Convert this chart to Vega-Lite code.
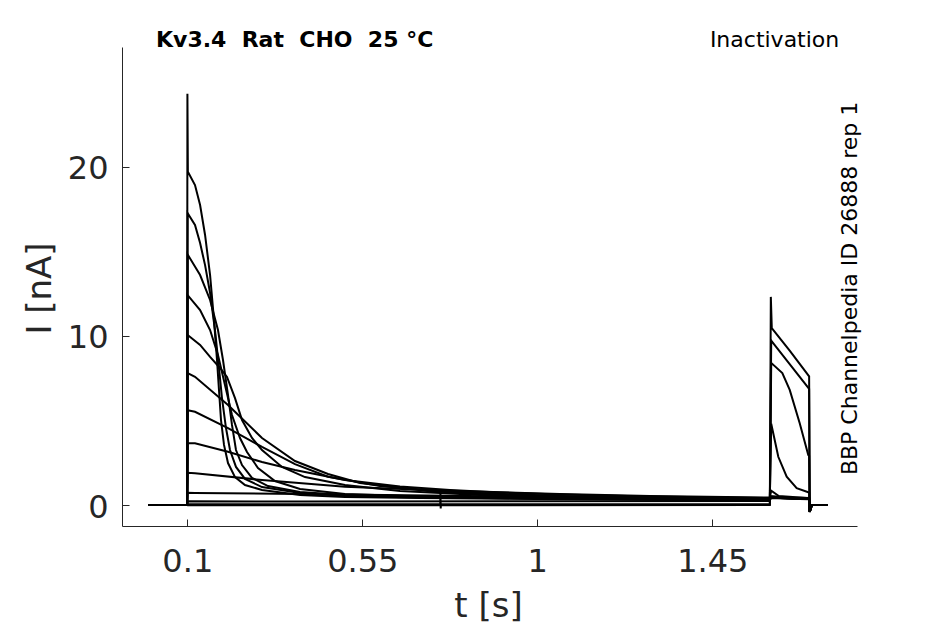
{
"$schema": "https://vega.github.io/schema/vega-lite/v6.json",
"width": 735, "height": 479,
"autosize": {"type": "none"},
"padding": {"left": 122, "top": 47, "right": 88, "bottom": 98},
"background": "white",
"config": {"view": {"stroke": null}, "font": "DejaVu Sans", "axis": {"grid": false}},
"layer": [
{
"data": {"values": [
{"s":1,"t":0,"i":0},{"s":1,"t":0.0995,"i":0},{"s":1,"t":0.1003,"i":24.3},{"s":1,"t":0.1015,"i":19.7},{"s":1,"t":0.1198,"i":18.91},{"s":1,"t":0.1329,"i":17.73},{"s":1,"t":0.1457,"i":15.96},{"s":1,"t":0.1586,"i":13.59},{"s":1,"t":0.1687,"i":10.93},{"s":1,"t":0.1764,"i":8.57},{"s":1,"t":0.1815,"i":6.8},{"s":1,"t":0.1867,"i":5.02},{"s":1,"t":0.1944,"i":3.55},{"s":1,"t":0.2047,"i":2.48},{"s":1,"t":0.2227,"i":1.65},{"s":1,"t":0.2484,"i":1.18},{"s":1,"t":0.2921,"i":0.89},{"s":1,"t":0.3898,"i":0.59},{"s":1,"t":0.5055,"i":0.47},{"s":1,"t":0.7,"i":0.42},{"s":1,"t":1.0,"i":0.36},{"s":1,"t":1.3,"i":0.32},{"s":1,"t":1.598,"i":0.3},{"s":1,"t":1.6015,"i":0.45},{"s":1,"t":1.65,"i":0.38},{"s":1,"t":1.699,"i":0.35},{"s":1,"t":1.7005,"i":-0.4},{"s":1,"t":1.706,"i":0},{"s":1,"t":1.746,"i":0},
{"s":2,"t":0,"i":0},{"s":2,"t":0.0995,"i":0},{"s":2,"t":0.101,"i":17.25},{"s":2,"t":0.1198,"i":16.55},{"s":2,"t":0.1329,"i":15.48},{"s":2,"t":0.1457,"i":14.18},{"s":2,"t":0.1586,"i":12.53},{"s":2,"t":0.1712,"i":10.34},{"s":2,"t":0.1815,"i":8.1},{"s":2,"t":0.1892,"i":6.32},{"s":2,"t":0.1995,"i":4.55},{"s":2,"t":0.2098,"i":3.25},{"s":2,"t":0.2252,"i":2.25},{"s":2,"t":0.2484,"i":1.54},{"s":2,"t":0.2921,"i":1.06},{"s":2,"t":0.3898,"i":0.71},{"s":2,"t":0.5055,"i":0.53},{"s":2,"t":0.7,"i":0.44},{"s":2,"t":1.0,"i":0.38},{"s":2,"t":1.3,"i":0.33},{"s":2,"t":1.598,"i":0.31},{"s":2,"t":1.6015,"i":0.42},{"s":2,"t":1.65,"i":0.37},{"s":2,"t":1.699,"i":0.34},{"s":2,"t":1.7005,"i":-0.35},{"s":2,"t":1.706,"i":0},{"s":2,"t":1.746,"i":0},
{"s":3,"t":0,"i":0},{"s":3,"t":0.0995,"i":0},{"s":3,"t":0.101,"i":14.8},{"s":3,"t":0.1329,"i":13.59},{"s":3,"t":0.1586,"i":12.12},{"s":3,"t":0.1789,"i":10.34},{"s":3,"t":0.1918,"i":8.57},{"s":3,"t":0.2047,"i":6.5},{"s":3,"t":0.2149,"i":4.73},{"s":3,"t":0.2252,"i":3.25},{"s":3,"t":0.2407,"i":2.36},{"s":3,"t":0.2664,"i":1.6},{"s":3,"t":0.3075,"i":1.12},{"s":3,"t":0.3898,"i":0.77},{"s":3,"t":0.5055,"i":0.59},{"s":3,"t":0.7,"i":0.46},{"s":3,"t":1.0,"i":0.39},{"s":3,"t":1.3,"i":0.34},{"s":3,"t":1.598,"i":0.32},{"s":3,"t":1.6015,"i":0.44},{"s":3,"t":1.65,"i":0.39},{"s":3,"t":1.699,"i":0.36},{"s":3,"t":1.7005,"i":-0.38},{"s":3,"t":1.706,"i":0},{"s":3,"t":1.746,"i":0},
{"s":4,"t":0,"i":0},{"s":4,"t":0.0995,"i":0},{"s":4,"t":0.101,"i":12.4},{"s":4,"t":0.1329,"i":11.52},{"s":4,"t":0.1586,"i":10.34},{"s":4,"t":0.1789,"i":8.87},{"s":4,"t":0.1969,"i":7.09},{"s":4,"t":0.2149,"i":5.32},{"s":4,"t":0.2355,"i":3.96},{"s":4,"t":0.2535,"i":3.13},{"s":4,"t":0.2818,"i":2.19},{"s":4,"t":0.3255,"i":1.42},{"s":4,"t":0.3898,"i":0.95},{"s":4,"t":0.5055,"i":0.65},{"s":4,"t":0.7,"i":0.5},{"s":4,"t":1.0,"i":0.41},{"s":4,"t":1.3,"i":0.35},{"s":4,"t":1.598,"i":0.33},{"s":4,"t":1.6015,"i":0.46},{"s":4,"t":1.65,"i":0.4},{"s":4,"t":1.699,"i":0.37},{"s":4,"t":1.7005,"i":-0.4},{"s":4,"t":1.706,"i":0},{"s":4,"t":1.746,"i":0},
{"s":5,"t":0,"i":0},{"s":5,"t":0.0995,"i":0},{"s":5,"t":0.101,"i":10.05},{"s":5,"t":0.1329,"i":9.46},{"s":5,"t":0.1586,"i":8.75},{"s":5,"t":0.1841,"i":8.1},{"s":5,"t":0.2021,"i":7.57},{"s":5,"t":0.2227,"i":6.32},{"s":5,"t":0.2407,"i":5.02},{"s":5,"t":0.2664,"i":3.96},{"s":5,"t":0.2921,"i":3.25},{"s":5,"t":0.3435,"i":2.25},{"s":5,"t":0.4027,"i":1.65},{"s":5,"t":0.5055,"i":1.18},{"s":5,"t":0.6469,"i":0.83},{"s":5,"t":0.8526,"i":0.59},{"s":5,"t":1.0,"i":0.5},{"s":5,"t":1.3,"i":0.4},{"s":5,"t":1.598,"i":0.35},{"s":5,"t":1.6015,"i":0.48},{"s":5,"t":1.65,"i":0.42},{"s":5,"t":1.699,"i":0.38},{"s":5,"t":1.7005,"i":-0.42},{"s":5,"t":1.706,"i":0},{"s":5,"t":1.746,"i":0},
{"s":6,"t":0,"i":0},{"s":6,"t":0.0995,"i":0},{"s":6,"t":0.101,"i":7.8},{"s":6,"t":0.1198,"i":7.58},{"s":6,"t":0.2047,"i":5.91},{"s":6,"t":0.2921,"i":3.96},{"s":6,"t":0.3769,"i":2.6},{"s":6,"t":0.4618,"i":1.83},{"s":6,"t":0.5441,"i":1.3},{"s":6,"t":0.7164,"i":0.83},{"s":6,"t":0.8526,"i":0.65},{"s":6,"t":1.058,"i":0.5},{"s":6,"t":1.2898,"i":0.41},{"s":6,"t":1.598,"i":0.35},{"s":6,"t":1.6015,"i":0.47},{"s":6,"t":1.65,"i":0.41},{"s":6,"t":1.699,"i":0.37},{"s":6,"t":1.7005,"i":-0.4},{"s":6,"t":1.706,"i":0},{"s":6,"t":1.746,"i":0},
{"s":7,"t":0,"i":0},{"s":7,"t":0.0995,"i":0},{"s":7,"t":0.101,"i":5.6},{"s":7,"t":0.1198,"i":5.51},{"s":7,"t":0.2047,"i":4.55},{"s":7,"t":0.2921,"i":3.43},{"s":7,"t":0.3769,"i":2.42},{"s":7,"t":0.4618,"i":1.67},{"s":7,"t":0.5955,"i":1.12},{"s":7,"t":0.7164,"i":0.89},{"s":7,"t":0.8526,"i":0.71},{"s":7,"t":1.058,"i":0.53},{"s":7,"t":1.2898,"i":0.44},{"s":7,"t":1.598,"i":0.38},{"s":7,"t":1.6015,"i":0.5},{"s":7,"t":1.65,"i":0.43},{"s":7,"t":1.699,"i":0.39},{"s":7,"t":1.7005,"i":-0.4},{"s":7,"t":1.706,"i":0},{"s":7,"t":1.746,"i":0},
{"s":8,"t":0,"i":0},{"s":8,"t":0.0995,"i":0},{"s":8,"t":0.101,"i":3.65},{"s":8,"t":0.1198,"i":3.65},{"s":8,"t":0.2047,"i":3.15},{"s":8,"t":0.2921,"i":2.54},{"s":8,"t":0.3769,"i":2.07},{"s":8,"t":0.5055,"i":1.48},{"s":8,"t":0.6469,"i":1.09},{"s":8,"t":0.7755,"i":0.89},{"s":8,"t":0.9041,"i":0.74},{"s":8,"t":1.058,"i":0.62},{"s":8,"t":1.2898,"i":0.5},{"s":8,"t":1.598,"i":0.41},{"s":8,"t":1.6015,"i":0.52},{"s":8,"t":1.65,"i":0.45},{"s":8,"t":1.699,"i":0.41},{"s":8,"t":1.7005,"i":-0.4},{"s":8,"t":1.706,"i":0},{"s":8,"t":1.746,"i":0},
{"s":9,"t":0,"i":0},{"s":9,"t":0.0995,"i":0},{"s":9,"t":0.101,"i":1.9},{"s":9,"t":0.1198,"i":1.87},{"s":9,"t":0.2921,"i":1.48},{"s":9,"t":0.5055,"i":1.08},{"s":9,"t":0.7164,"i":0.89},{"s":9,"t":1.058,"i":0.65},{"s":9,"t":1.2898,"i":0.53},{"s":9,"t":1.598,"i":0.44},{"s":9,"t":1.6015,"i":0.85},{"s":9,"t":1.621,"i":0.53},{"s":9,"t":1.699,"i":0.41},{"s":9,"t":1.7005,"i":-0.4},{"s":9,"t":1.706,"i":0},{"s":9,"t":1.746,"i":0},
{"s":10,"t":0,"i":0},{"s":10,"t":0.0995,"i":0},{"s":10,"t":0.101,"i":0.72},{"s":10,"t":0.1198,"i":0.71},{"s":10,"t":0.3898,"i":0.65},{"s":10,"t":0.7164,"i":0.56},{"s":10,"t":1.058,"i":0.47},{"s":10,"t":1.598,"i":0.38},{"s":10,"t":1.6015,"i":4.8},{"s":10,"t":1.6197,"i":2.85},{"s":10,"t":1.6413,"i":1.67},{"s":10,"t":1.667,"i":0.99},{"s":10,"t":1.6968,"i":0.75},{"s":10,"t":1.699,"i":0.74},{"s":10,"t":1.7005,"i":-0.4},{"s":10,"t":1.706,"i":0},{"s":10,"t":1.746,"i":0},
{"s":11,"t":0,"i":0},{"s":11,"t":0.0995,"i":0},{"s":11,"t":0.101,"i":0.22},{"s":11,"t":0.4,"i":0.2},{"s":11,"t":1.0,"i":0.22},{"s":11,"t":1.598,"i":0.24},{"s":11,"t":1.6015,"i":8.4},{"s":11,"t":1.6301,"i":7.8},{"s":11,"t":1.6491,"i":6.8},{"s":11,"t":1.6748,"i":4.83},{"s":11,"t":1.6968,"i":2.96},{"s":11,"t":1.699,"i":2.9},{"s":11,"t":1.7005,"i":-0.4},{"s":11,"t":1.706,"i":0},{"s":11,"t":1.746,"i":0},
{"s":12,"t":0,"i":0},{"s":12,"t":0.0995,"i":0},{"s":12,"t":0.101,"i":0.05},{"s":12,"t":0.5,"i":0.05},{"s":12,"t":0.7504,"i":0.05},{"s":12,"t":0.751,"i":0.7},{"s":12,"t":0.7516,"i":-0.2},{"s":12,"t":0.7522,"i":0.05},{"s":12,"t":1.0,"i":0.05},{"s":12,"t":1.598,"i":0.05},{"s":12,"t":1.6005,"i":12.3},{"s":12,"t":1.603,"i":10.45},{"s":12,"t":1.65,"i":9.1},{"s":12,"t":1.699,"i":7.6},{"s":12,"t":1.7005,"i":-0.4},{"s":12,"t":1.706,"i":0},{"s":12,"t":1.746,"i":0},
{"s":13,"t":0,"i":0},{"s":13,"t":0.0995,"i":0},{"s":13,"t":0.101,"i":-0.02},{"s":13,"t":1.598,"i":0.0},{"s":13,"t":1.6015,"i":9.72},{"s":13,"t":1.65,"i":8.3},{"s":13,"t":1.699,"i":6.86},{"s":13,"t":1.7005,"i":-0.35},{"s":13,"t":1.706,"i":0},{"s":13,"t":1.746,"i":0}
]},
"mark": {"type": "line", "stroke": "black", "strokeWidth": 2, "clip": true},
"encoding": {
"x": {"field": "t", "type": "quantitative",
"scale": {"domain": [-0.0679, 1.8221], "nice": false, "zero": false},
"axis": {"title": "t [s]", "values": [0.1, 0.55, 1, 1.45], "labelExpr": "'' + datum.value", "labelFontSize": 32, "labelColor": "#262626", "labelFont": "DejaVu Sans", "labelFlush": false, "labelOverlap": false, "ticks": true, "tickSize": -7, "tickWidth": 1, "tickColor": "#262626", "domainColor": "#262626", "labelPadding": 27, "titleFontSize": 34, "titleFontWeight": "normal", "titleColor": "#262626", "titleFont": "DejaVu Sans", "titleX": 366, "titleY": 90, "titleBaseline": "alphabetic"}},
"y": {"field": "i", "type": "quantitative",
"scale": {"domain": [-1.241, 27.07], "nice": false, "zero": false},
"axis": {"title": "I [nA]", "values": [0, 10, 20], "labelExpr": "'' + datum.value", "labelFontSize": 32, "labelColor": "#262626", "labelFont": "DejaVu Sans", "labelFlush": false, "labelOverlap": false, "ticks": true, "tickSize": -7, "tickWidth": 1, "tickColor": "#262626", "domainColor": "#262626", "labelPadding": 21, "labelOffset": 2, "titleFontSize": 34, "titleFontWeight": "normal", "titleColor": "#262626", "titleFont": "DejaVu Sans", "titleAngle": 270, "titleX": -72, "titleY": 241, "titleAlign": "center", "titleBaseline": "alphabetic"}},
"detail": {"field": "s", "type": "nominal"}
}
},
{
"data": {"values": [{"label": "Kv3.4\u00a0 Rat\u00a0 CHO\u00a0 25 °C"}]},
"mark": {"type": "text", "font": "DejaVu Sans", "fontSize": 22, "fontWeight": "bold", "align": "left", "baseline": "alphabetic", "color": "black"},
"encoding": {
"x": {"datum": 0.0195, "type": "quantitative"},
"y": {"datum": 27.09, "type": "quantitative"},
"text": {"field": "label"}
}
},
{
"data": {"values": [{"label": "Inactivation"}]},
"mark": {"type": "text", "font": "DejaVu Sans", "fontSize": 22, "align": "right", "baseline": "alphabetic", "color": "black"},
"encoding": {
"x": {"datum": 1.7765, "type": "quantitative"},
"y": {"datum": 27.09, "type": "quantitative"},
"text": {"field": "label"}
}
},
{
"data": {"values": [{"label": "BBP Channelpedia ID 26888 rep 1"}]},
"mark": {"type": "text", "font": "DejaVu Sans", "fontSize": 22, "align": "center", "baseline": "alphabetic", "angle": 270, "color": "black"},
"encoding": {
"x": {"datum": 1.823, "type": "quantitative"},
"y": {"datum": 12.8, "type": "quantitative"},
"text": {"field": "label"}
}
}
]
}
